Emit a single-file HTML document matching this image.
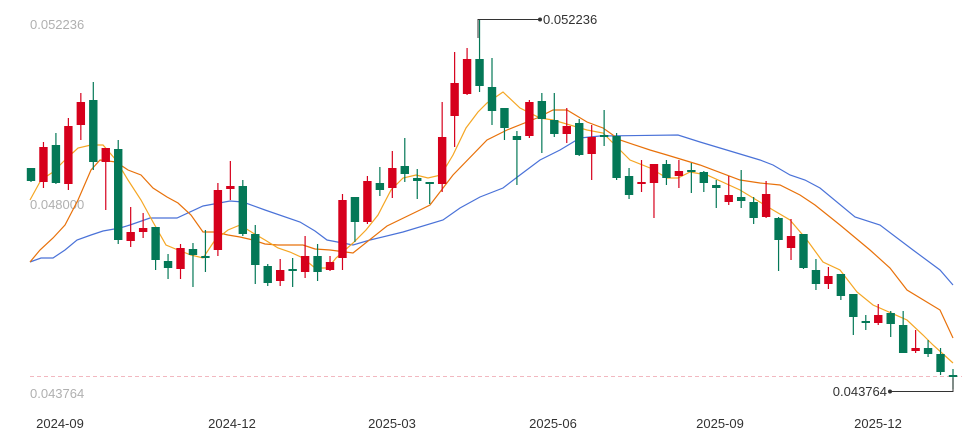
<!DOCTYPE html>
<html><head><meta charset="utf-8"><style>
html,body{margin:0;padding:0;background:#fff;}
svg{display:block;font-family:"Liberation Sans",sans-serif;}
</style></head><body>
<svg id="s" width="970" height="440" xmlns="http://www.w3.org/2000/svg">
<text x="30" y="29" font-size="13" fill="#b0b0b0">0.052236</text>
<text x="30" y="209" font-size="13" fill="#b0b0b0">0.048000</text>
<text x="30" y="398" font-size="13" fill="#b0b0b0">0.043764</text>
<line x1="30" y1="376.5" x2="962" y2="376.5" stroke="#f2b8c0" stroke-dasharray="4,3" stroke-width="1"/>
<g font-size="13" fill="#333" text-anchor="middle">
<text x="60" y="428">2024-09</text>
<text x="232" y="428">2024-12</text>
<text x="392" y="428">2025-03</text>
<text x="553" y="428">2025-06</text>
<text x="720" y="428">2025-09</text>
<text x="878" y="428">2025-12</text>
</g>
<g id="ma" fill="none" stroke-width="1.2">
<polyline stroke="#4a72d8" points="30,262 41,258 53,258 65,250 77,240 91,235 103,231 120,228 130,225 150,218 177,218 203,206 230,201 243,202 265,210 300,222 315,231 327,240 353,245 370,240 403,232 443,220 460,208 480,197 503,188 520,175 540,160 560,150 580,138 600,136 678,135 700,142 760,160 773,165 790,175 805,180 820,188 855,217 880,225 913,250 940,270 953,285"/>
<polyline stroke="#e8710a" points="30,262 40,250 53,238 65,225 78,200 91,170 100,160 116,162 128,170 141,175 153,188 167,197 178,203 191,215 203,232 215,232 228,235 240,237 253,240 265,244 278,245 303,245 315,249 330,250 353,253 387,226 420,210 430,205 453,175 487,140 507,130 537,118 553,110 567,110 587,122 603,128 620,140 650,150 667,155 700,165 740,180 760,183 780,185 800,195 815,205 840,225 870,250 890,268 907,290 940,310 953,338"/>
<polyline stroke="#f5a623" points="30,200 41,180 53,172 65,160 78,148 91,145 103,145 116,160 128,180 141,200 153,222 166,245 178,250 191,255 203,258 215,240 228,230 240,225 253,233 265,240 278,248 290,252 303,258 315,268 328,268 336,258 353,243 366,230 378,215 391,190 403,178 416,175 428,178 441,175 453,155 466,128 478,112 487,103 503,92 520,108 540,118 553,120 587,130 603,133 620,150 630,160 650,168 667,178 678,178 690,172 707,175 740,190 773,210 790,220 807,240 823,262 840,270 857,292 873,305 907,320 923,335 933,345 953,363"/>
</g>
<g id="c"></g>
<g stroke="#333" stroke-width="1" fill="none">
<polyline points="478,38 478,19.5 540,19.5"/>
<polyline points="953,378 953,391.5 890,391.5"/>
</g>
<circle cx="540" cy="19.5" r="2" fill="#333"/>
<circle cx="890" cy="391.5" r="2" fill="#333"/>
<text x="543" y="24" font-size="13" fill="#333">0.052236</text>
<text x="887" y="396" font-size="13" fill="#333" text-anchor="end">0.043764</text>
</svg>
<script>
var d=[
["g",168,181,168,182],["r",147,182,142,188],["g",145,183,133,184],["r",126,184,118,190],["r",102,125,93,140],
["g",100,162,82,170],["r",148,162,148,210],["g",149,240,140,244],["r",232,241,207,247],["r",228,232,213,238],
["g",227,260,227,270],["g",261,268,254,279],["r",248,269,244,279],["g",249,255,243,287],["g",256,258,230,272],
["r",190,250,183,256],["r",186,189,161,200],["g",186,234,180,236],["g",234,265,225,284],["g",266,283,264,286],
["r",270,281,259,286],["g",269,271,258,287],["r",256,272,236,278],["g",256,272,244,281],["r",262,270,256,271],
["r",200,258,194,270],["g",197,222,197,242],["r",181,222,176,224],["g",183,190,167,196],["r",168,188,151,198],
["g",166,174,138,182],["g",178,181,169,199],["g",182,184,182,204],["r",137,184,102,192],["r",83,116,52,147],
["r",59,94,48,95],["g",59,86,20,92],["g",87,111,58,125],["g",108,128,108,140],["g",136,140,131,185],
["r",102,136,100,138],["g",101,119,93,153],["g",120,134,93,137],["r",126,134,108,143],["g",123,155,119,156],
["r",137,154,125,180],["g",135,137,110,146],["g",136,178,133,180],["g",176,195,168,199],["r",182,184,160,192],
["r",164,183,164,218],["g",164,178,160,185],["r",171,176,160,188],["g",170,172,163,193],["g",172,183,171,192],
["g",185,188,180,208],["r",195,202,176,205],["g",197,201,170,208],["g",202,218,197,224],["r",194,217,181,218],
["g",218,240,217,271],["r",236,248,219,260],["g",234,268,234,269],["g",270,284,259,290],["r",276,284,267,289],
["g",274,296,274,300],["g",294,317,294,335],["g",321,323,315,330],["r",315,323,304,325],["g",313,324,311,337],
["g",325,353,311,353],["r",348,351,330,353],["g",348,354,340,357],["g",354,372,348,375],["g",375,377,369,389]];
var g=document.getElementById("c"),h="";
for(var i=0;i<d.length;i++){var x=31+i*(922/74),c=d[i][0]=="g"?"#047857":"#d6001c",t=d[i][1],b=d[i][2];if(b-t<2)b=t+2;
h+='<line x1="'+x+'" x2="'+x+'" y1="'+d[i][3]+'" y2="'+d[i][4]+'" stroke="'+c+'" stroke-width="1.2"/>';
h+='<rect x="'+(x-4.2)+'" y="'+t+'" width="8.4" height="'+(b-t)+'" fill="'+c+'"/>';}
g.innerHTML=h;
</script>
</body></html>
